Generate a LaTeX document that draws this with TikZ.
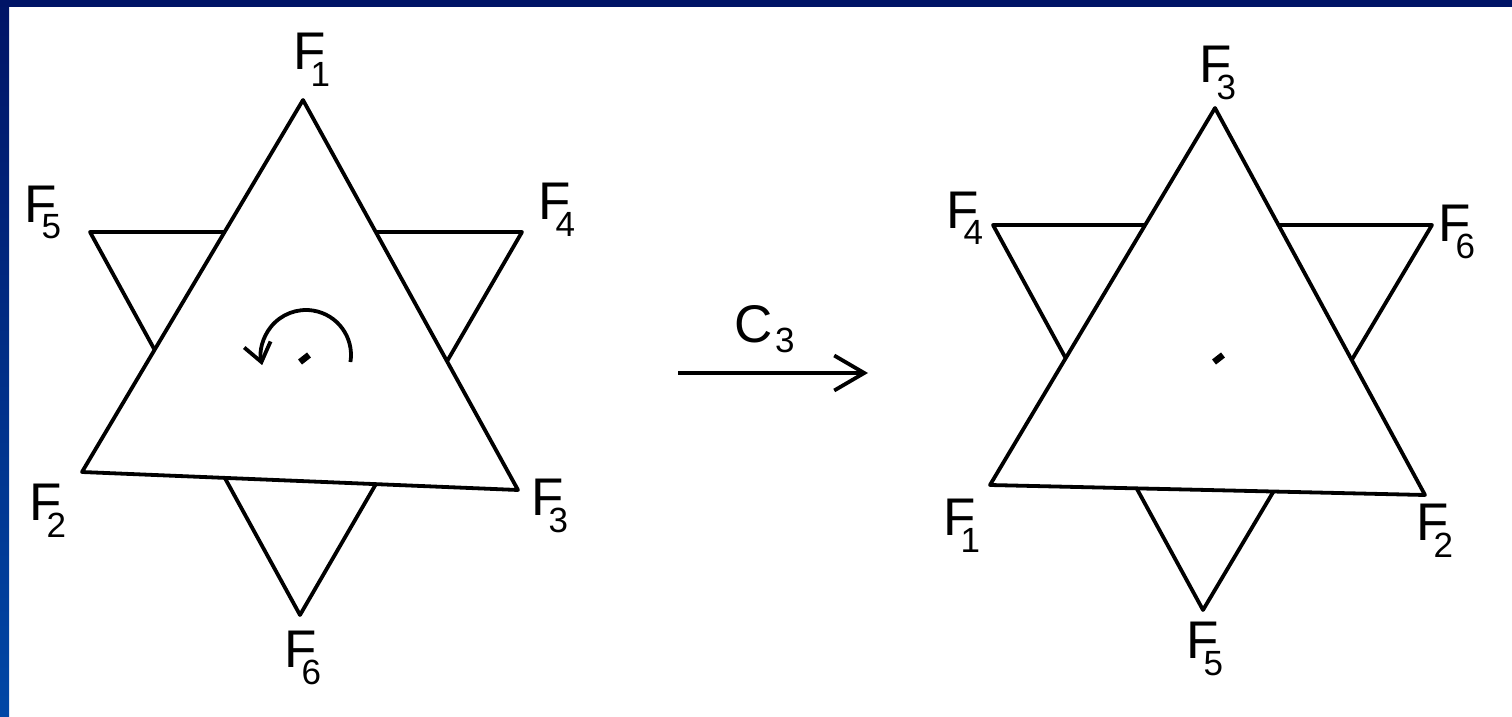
\documentclass[tikz,border=0pt]{standalone}
\usepackage{fontspec}
\setmainfont{Liberation Sans}
\usetikzlibrary{arrows.meta}
\newcommand\flab[1]{F\kern-7.6pt\raisebox{-8.5pt}{\fontsize{17.5}{17.5}\selectfont #1}}
\newcommand\clab[1]{C\kern1.2pt\raisebox{-5pt}{\fontsize{17.5}{17.5}\selectfont #1}}
\definecolor{navy}{HTML}{001466}
\definecolor{navylow}{HTML}{0047A6}
\begin{document}
\begin{tikzpicture}[x=0.5pt,y=-0.5pt,
  lbl/.style={anchor=base west, inner sep=0pt, font=\fontsize{26.5}{30}\selectfont},
  tri/.style={line width=1.9pt, line join=round},
  big/.style={tri, fill=white},
  mapar/.style={line width=1.9pt, -{Straight Barb[length=15pt,width=17.5pt,line width=1.9pt]}},
  rotar/.style={line width=1.9pt, -{Straight Barb[length=9pt,width=13.5pt,line width=1.9pt]}},
  dotmark/.style={line width=3.2pt}]
\useasboundingbox (0,0) rectangle (1512,717);
\fill[white] (0,0) rectangle (1512,717);
\shade[top color=navy, bottom color=navylow] (0,0) rectangle (9,717);
\fill[navy] (0,0) rectangle (1512,7);

% ---- left star ----
\coordinate (LsA) at (90,232);
\coordinate (LsB) at (522,232);
\coordinate (LsC) at (300,615);
\coordinate (LbA) at (303,100);
\coordinate (LbB) at (82,472);
\coordinate (LbC) at (518,490);
\draw[tri] (LsA) -- (LsB) -- (LsC) -- cycle;
\draw[big] (LbA) -- (LbB) -- (LbC) -- cycle;

\node[lbl] (L1) at (293,70) {\flab{1}};
\node[lbl] (L5) at (24,222) {\flab{5}};
\node[lbl] (L4) at (538,220) {\flab{4}};
\node[lbl] (L2) at (29,520) {\flab{2}};
\node[lbl] (L3) at (531,515) {\flab{3}};
\node[lbl] (L6) at (284,667) {\flab{6}};

\coordinate (rc) at (306,355);
\draw[rotar] ([shift={(9:45)}]rc) arc[start angle=9, end angle=-193, radius=45];
\draw[dotmark] (300,362) -- (309,355);

% ---- mapping arrow ----
\coordinate (ma) at (678,373);
\coordinate (mb) at (868,373);
\draw[mapar] (ma) -- (mb);
\node[lbl] (C3) at (734,343) {\clab{3}};

% ---- right star ----
\coordinate (RsA) at (993,225);
\coordinate (RsB) at (1432,225);
\coordinate (RsC) at (1203,610);
\coordinate (RbA) at (1215,108);
\coordinate (RbB) at (990,485);
\coordinate (RbC) at (1425,495);
\draw[tri] (RsA) -- (RsB) -- (RsC) -- cycle;
\draw[big] (RbA) -- (RbB) -- (RbC) -- cycle;

\node[lbl] (R3) at (1199,83) {\flab{3}};
\node[lbl] (R4) at (946,228) {\flab{4}};
\node[lbl] (R6) at (1438,242) {\flab{6}};
\node[lbl] (R1) at (943,535) {\flab{1}};
\node[lbl] (R2) at (1416,540) {\flab{2}};
\node[lbl] (R5) at (1186,658) {\flab{5}};

\draw[dotmark] (1214,362) -- (1223,355);
\end{tikzpicture}
\end{document}
